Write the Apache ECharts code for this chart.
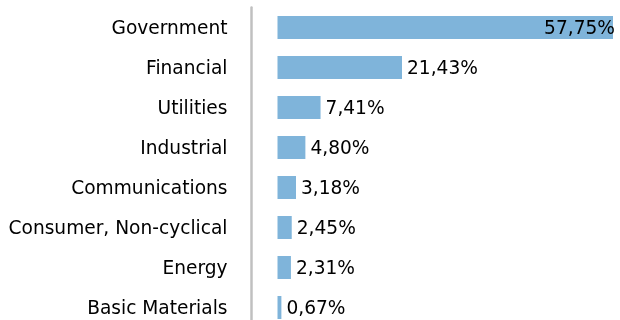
<!DOCTYPE html>
<html>
<head>
<meta charset="utf-8">
<script src="https://cdn.jsdelivr.net/npm/echarts@6/dist/echarts.min.js"></script>
<style>
  html, body { margin: 0; padding: 0; background: #fff; overflow: hidden; }
  #chart { width: 620px; height: 328px; }
</style>
</head>
<body>
<div id="chart"></div>
<script>
// Sector weights, in percent, top to bottom
const sectors = ['Government', 'Financial', 'Utilities', 'Industrial', 'Communications', 'Consumer, Non-cyclical', 'Energy', 'Basic Materials'];
const weights = [57.75, 21.43, 7.41, 4.80, 3.18, 2.45, 2.31, 0.67];

const fmt = v => v.toFixed(2).replace('.', ',') + '%';

const chart = echarts.init(document.getElementById('chart'), null, { renderer: 'canvas' });

chart.setOption({
  animation: false,
  grid: { left: 277.5, top: 7.5, width: 335.5, height: 320, containLabel: false },
  xAxis: {
    type: 'value', min: 0, max: 57.75,
    show: false
  },
  yAxis: {
    type: 'category',
    data: sectors,
    inverse: true,
    offset: 26,
    axisLine: { show: true, onZero: false, lineStyle: { color: '#c0c0c0', width: 2.5 } },
    axisTick: { show: false },
    axisLabel: {
      margin: 24,
      color: '#000',
      fontFamily: 'DejaVu Sans',
      fontSize: 18.6,
      formatter: s => '{n|' + s + '}',
      rich: {
        n: {
          color: '#000',
          fontFamily: 'DejaVu Sans',
          fontSize: 18.6,
          padding: [4, 0, 0, 0]
        }
      }
    }
  },
  series: [{
    type: 'bar',
    data: weights.map((v, i) => ({
      value: v,
      label: i === 0
        ? { position: 'insideRight', distance: -2 }
        : { position: 'right', distance: 5 }
    })),
    barWidth: 23,
    itemStyle: { color: '#7fb4da' },
    label: {
      show: true,
      color: '#000',
      fontFamily: 'DejaVu Sans',
      fontSize: 18.6,
      offset: [0, 2],
      formatter: p => fmt(p.value)
    }
  }]
});
</script>
</body>
</html>
